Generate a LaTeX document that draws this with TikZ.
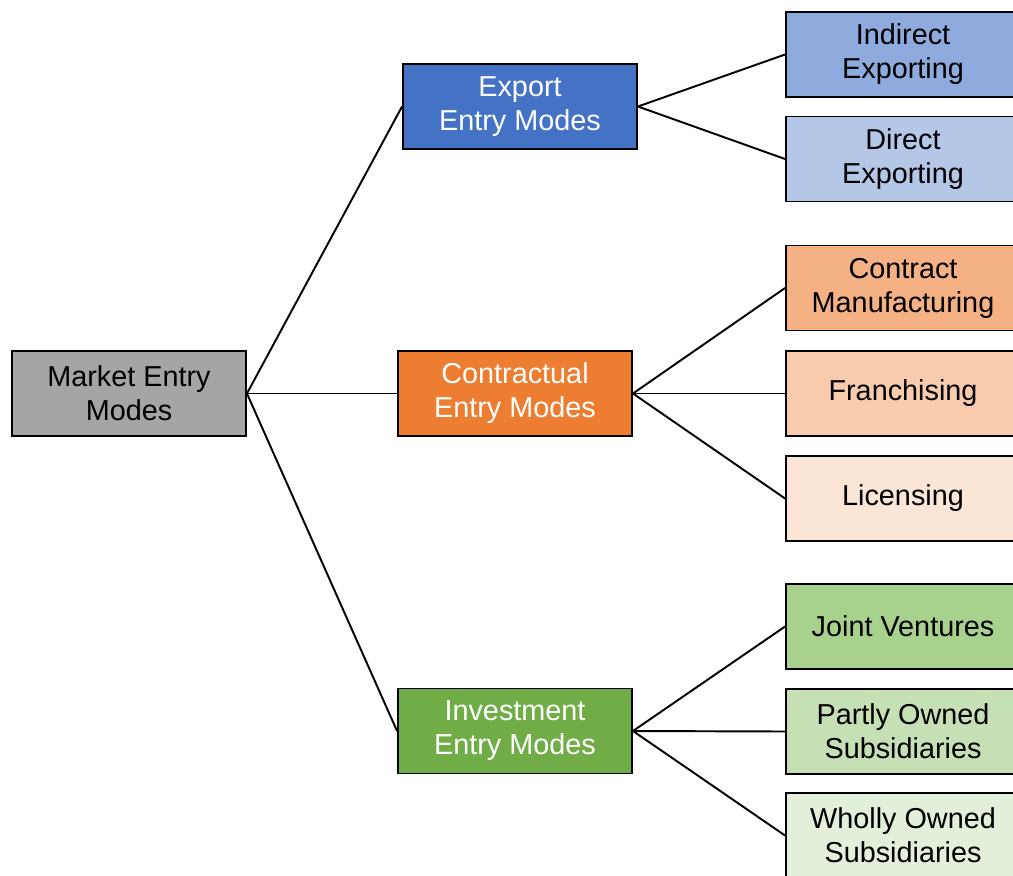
\documentclass[tikz,border=0pt]{standalone}
\usepackage{fontspec}
\setmainfont{Liberation Sans}
\definecolor{rootgray}{HTML}{A5A5A5}
\definecolor{expblue}{HTML}{4472C4}
\definecolor{expblueA}{HTML}{8FAADC}
\definecolor{expblueB}{HTML}{B4C7E7}
\definecolor{conorange}{HTML}{ED7D31}
\definecolor{conorangeA}{HTML}{F4B183}
\definecolor{conorangeB}{HTML}{F8CBAD}
\definecolor{conorangeC}{HTML}{FBE5D6}
\definecolor{invgreen}{HTML}{70AD47}
\definecolor{invgreenA}{HTML}{A9D18E}
\definecolor{invgreenB}{HTML}{C5E0B4}
\definecolor{invgreenC}{HTML}{E2F0D9}
\begin{document}
\begin{tikzpicture}[x=0.02cm, y=-0.02cm, every node/.style={rectangle, draw, line width=1.1pt, minimum width=4.68cm, minimum height=1.7cm, align=center, inner sep=0pt, font=\fontsize{16.4}{19.4}\selectfont}, mode/.style={text=white}, link/.style={line width=1.1pt}]
		\useasboundingbox (0, 0) rectangle (1013, 875);
		\clip (0, 0) rectangle (1013, 875);
		\node[fill=rootgray] (root) at (129, 393.5) {Market Entry\\Modes};

		\node[mode, fill=expblue] (exp) at (520, 106.5) {Export\\Entry Modes};
		\node[mode, fill=conorange] (con) at (515, 393.5) {Contractual\\Entry Modes};
		\node[mode, fill=invgreen] (inv) at (515, 731) {Investment\\Entry Modes};

		\node[fill=expblueA] (ind) at (903, 54.5) {Indirect\\Exporting};
		\node[fill=expblueB] (dir) at (903, 159) {Direct\\Exporting};

		\node[fill=conorangeA] (man) at (903, 288) {Contract\\Manufacturing};
		\node[fill=conorangeB] (fra) at (903, 393.5) {Franchising};
		\node[fill=conorangeC] (lic) at (903, 498.5) {Licensing};

		\node[fill=invgreenA] (jv) at (903, 626.5) {Joint Ventures};
		\node[fill=invgreenB] (pos) at (903, 731.5) {Partly Owned\\Subsidiaries};
		\node[fill=invgreenC] (wos) at (903, 835.5) {Wholly Owned\\Subsidiaries};

		\draw[link] (root.east) -- (exp.west);
		\draw[link] (root.east) -- (con.west);
		\draw[link] (root.east) -- (inv.west);

		\draw[link] (exp.east) -- (ind.west);
		\draw[link] (exp.east) -- (dir.west);
		\draw[link] (con.east) -- (man.west);
		\draw[link] (con.east) -- (fra.west);
		\draw[link] (con.east) -- (lic.west);
		\draw[link] (inv.east) -- (jv.west);
		\draw[link] (inv.east) -- (pos.west);
		\draw[link] (inv.east) -- (wos.west);
	\end{tikzpicture}
\end{document}
